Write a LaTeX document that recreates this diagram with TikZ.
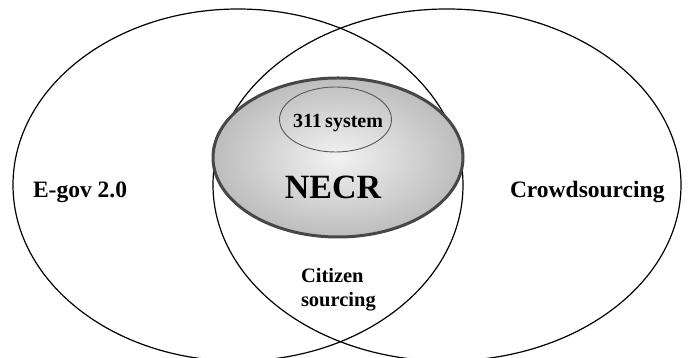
\documentclass[tikz,border=0pt]{standalone}
\usepackage{fontspec}
\setmainfont{Liberation Serif}
\begin{document}
\begin{tikzpicture}[x=1pt,y=1pt,
  bigset/.style={draw=black,line width=1.2pt},
  lbl/.style={inner sep=0pt,outer sep=0pt},
]
\useasboundingbox (0,0) rectangle (688,358);
\fill[white] (0,0) rectangle (688,358);
% big sets
\draw[bigset] (238,173) ellipse [x radius=225,y radius=176];
\draw[bigset] (447,173) ellipse [x radius=234,y radius=176];
% NECR
\shade[inner color=gray!10,outer color=gray!52] (338,200.5) ellipse [x radius=125,y radius=79.5];
\draw[draw=black!72,line width=3pt] (338,200.5) ellipse [x radius=125,y radius=79.5];
% 311 system
\draw[draw=black!65,line width=0.9pt] (335.5,238.5) ellipse [x radius=56,y radius=32.5];
% labels
\node[lbl,anchor=base west,font=\bfseries\fontsize{23.5}{25}\selectfont] (egov) at (33,160) {E-gov 2.0};
\node[lbl,anchor=base west,font=\bfseries\fontsize{23.5}{25}\selectfont] (crowd) at (510,160) {Crowdsourcing};
\node[lbl,anchor=base,font=\bfseries\fontsize{34}{36}\selectfont] (necr) at (333,159) {NECR};
\node[lbl,anchor=base,font=\bfseries\fontsize{20}{22}\selectfont] (sys) at (338,230) {311\,system};
\node[lbl,anchor=base west,font=\bfseries\fontsize{20.5}{22}\selectfont] (cit) at (301,75) {Citizen};
\node[lbl,anchor=base west,font=\bfseries\fontsize{20.5}{22}\selectfont] (src) at (301,51) {sourcing};
\end{tikzpicture}
\end{document}
